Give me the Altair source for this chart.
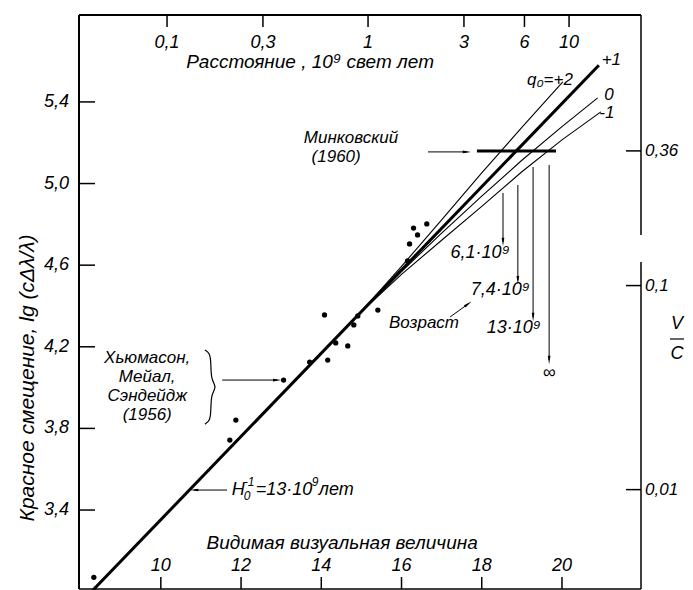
import altair as alt
import pandas as pd

W, H = 562, 574
FONT = "Liberation Sans"
ARROW = "M0,-1L0.32,1L-0.32,1Z"

# ---------------- data ----------------
mag_ticks = [10, 12, 14, 16, 18, 20]
mag_labels = ["10", "12", "14", "16", "18", "20"]
lg_ticks = [3.4, 3.8, 4.2, 4.6, 5.0, 5.4]
lg_labels = ["3,4", "3,8", "4,2", "4,6", "5,0", "5,4"]
dist_ticks = [0.1, 0.3, 1, 3, 6, 10]
dist_labels = ["0,1", "0,3", "1", "3", "6", "10"]
vc_lg = [3.50, 4.50, 5.16]
vc_labels = ["0,01", "0,1", "0,36"]

gal_mag = [8.33, 11.72, 11.87, 13.06, 13.71, 14.16, 14.36, 14.66, 14.81,
           14.91, 14.08, 15.41, 16.15, 16.20, 16.30, 16.40, 16.63]
gal_lg = [3.07, 3.743, 3.841, 4.037, 4.125, 4.135, 4.219, 4.204, 4.307,
          4.351, 4.356, 4.380, 4.621, 4.704, 4.782, 4.748, 4.802]

q_p1_mag = [8.31, 20.92]
q_p1_lg = [3.008, 5.580]
q_p2_mag = [14.5, 15.0, 16.0, 17.0, 18.0, 19.0, 20.02]
q_p2_lg = [4.271, 4.373, 4.594, 4.822, 5.052, 5.275, 5.498]
q_0_mag = [14.5, 15.0, 16.0, 17.0, 18.0, 19.0, 20.0, 20.89]
q_0_lg = [4.271, 4.373, 4.569, 4.757, 4.938, 5.114, 5.279, 5.420]
q_m1_mag = [14.5, 15.0, 16.0, 17.0, 18.0, 19.0, 20.0, 20.97]
q_m1_lg = [4.271, 4.373, 4.555, 4.722, 4.888, 5.058, 5.214, 5.351]

mink_mag = [17.88, 19.85]
mink_lg = [5.16]

age_mag = [18.53, 18.90, 19.28, 19.68]
age_top = [4.954, 4.993, 5.081, 5.091]
age_head = [4.714, 4.527, 4.346, 4.135]
age_labels = ["6,1·10⁹", "7,4·10⁹", "13·10⁹", "∞"]
age_label_mag = [17.96, 18.46, 18.80, 19.68]
age_label_lg = [4.660, 4.478, 4.292, 4.072]

center_texts = ["Минковский", "(1960)", "q₀=+2", "0", "-1", "Возраст",
                "Хьюмасон,", "Мейал,", "Сэндейдж", "(1956)"]
center_mag = [14.74, 14.37, 19.70, 21.17, 21.12, 16.56, 9.66, 9.66, 9.66, 9.66]
center_lg = [5.224, 5.130, 5.508, 5.434, 5.346, 4.317, 4.145, 4.052, 3.959, 3.866]

title_texts = ["Видимая визуальная величина", "Расстояние , 10⁹ свет лет"]
title_mag = [14.52, 13.72]
title_lg = [3.238, 5.596]

plus1_text = ["+1"]
plus1_mag = [20.99]
plus1_lg = [5.606]

# H0 label pieces: text, font size, dx, dy
h0_pieces = ["H", "0", "-1", "=13·10", "9", "лет"]
h0_size = [18, 12, 12, 18, 12, 18]
h0_dx = [0, 12, 12, 24, 80, 87]
h0_dy = [0, 6, -8, 0, -8, 0]
h0_mag = 11.77
h0_lg = 3.498

# arrows: start, end (magnitude, lg)
arr_x1 = [16.66, 11.53, 11.65, 17.21]
arr_x2 = [17.63, 12.90, 10.83, 17.66]
arr_y1 = [5.155, 4.037, 3.498, 4.346]
arr_y2 = [5.155, 4.037, 3.498, 4.410]
arr_angle = [90, 90, 270, 54]

brace_mag = [11.10, 11.22, 11.25, 11.25, 11.40, 11.25, 11.25, 11.22, 11.10]
brace_lg = [4.184, 4.170, 4.125, 4.037, 4.003, 3.968, 3.880, 3.836, 3.821]

# ---------------- scales ----------------
X = alt.Scale(domain=[7.96, 21.97], nice=False, zero=False)
Y = alt.Scale(domain=[3.013, 5.826], nice=False, zero=False)
D = alt.Scale(type="log", domain=[0.03648, 22.80], nice=False)


def xq(f):
    return alt.X(f, type="quantitative", scale=X, axis=None)


def yq(f):
    return alt.Y(f, type="quantitative", scale=Y, axis=None)


one = pd.DataFrame({"a": [0]})


def text_layer(df, align="center", size=16, **kw):
    return alt.Chart(df).mark_text(font=FONT, fontStyle="italic", fontSize=size,
                                   align=align, baseline="middle", color="black", **kw)


# frame
frame = [
    alt.Chart(one).mark_rule(color="black", strokeWidth=2).encode(
        x=alt.value(0), x2=alt.value(W), y=alt.value(0)),
    alt.Chart(one).mark_rule(color="black", strokeWidth=2).encode(
        x=alt.value(0), y=alt.value(0), y2=alt.value(H)),
    alt.Chart(one).mark_rule(color="black", strokeWidth=1.5).encode(
        x=alt.value(0), x2=alt.value(W), y=alt.value(H)),
    alt.Chart(one).mark_rule(color="black", strokeWidth=1.5).encode(
        x=alt.value(W), y=alt.value(0), y2=alt.value(220)),
    alt.Chart(one).mark_rule(color="black", strokeWidth=1.5).encode(
        x=alt.value(W), y=alt.value(247), y2=alt.value(H)),
]

lgdf = pd.DataFrame({"lg": lg_ticks, "label": lg_labels})
left_ticks = alt.Chart(lgdf).mark_rule(color="black", strokeWidth=1.5).encode(
    y=yq("lg"), x=alt.value(0), x2=alt.value(16))
left_labels = text_layer(lgdf, align="right", size=18).encode(
    y=yq("lg"), x=alt.value(-10), text="label:N")

vcdf = pd.DataFrame({"lg": vc_lg, "label": vc_labels})
right_ticks = alt.Chart(vcdf).mark_rule(color="black", strokeWidth=1.5).encode(
    y=yq("lg"), x=alt.value(W - 15), x2=alt.value(W))
right_labels = text_layer(vcdf, align="left", size=17).encode(
    y=yq("lg"), x=alt.value(W + 4), text="label:N")

magdf = pd.DataFrame({"m": mag_ticks, "label": mag_labels})
bottom_ticks = alt.Chart(magdf).mark_rule(color="black", strokeWidth=1.5).encode(
    x=xq("m"), y=alt.value(H), y2=alt.value(H - 12))
bottom_labels = text_layer(magdf, size=18).encode(
    x=xq("m"), y=alt.value(551), text="label:N")

ytitle = text_layer(one, size=21, angle=270).encode(
    x=alt.value(-51), y=alt.value(363), text=alt.value("Красное смещение, lg (cΔλ/λ)"))
vc_v = text_layer(one, size=18).encode(x=alt.value(W + 36), y=alt.value(309), text=alt.value("V"))
vc_c = text_layer(one, size=18).encode(x=alt.value(W + 36), y=alt.value(339), text=alt.value("C"))
vc_bar = alt.Chart(one).mark_rule(color="black", strokeWidth=1.2).encode(
    x=alt.value(W + 29), x2=alt.value(W + 43), y=alt.value(324))


def curve(ms, ls, width):
    df = pd.DataFrame({"m": ms, "lg": ls})
    return alt.Chart(df).mark_line(color="black", strokeWidth=width).encode(
        x=xq("m"), y=yq("lg"))


curves = [
    curve(q_p2_mag, q_p2_lg, 1.1),
    curve(q_0_mag, q_0_lg, 1.1),
    curve(q_m1_mag, q_m1_lg, 1.1),
    curve(q_p1_mag, q_p1_lg, 3),
]

galdf = pd.DataFrame({"m": gal_mag, "lg": gal_lg})
dots = alt.Chart(galdf).mark_circle(color="black", opacity=1, size=28).encode(
    x=xq("m"), y=yq("lg"))

minkdf = pd.DataFrame({"m1": [mink_mag[0]], "m2": [mink_mag[1]], "lg": mink_lg})
mink = alt.Chart(minkdf).mark_rule(color="black", strokeWidth=3).encode(
    x=xq("m1"), x2=alt.X2("m2"), y=yq("lg"))

agedf = pd.DataFrame({"m": age_mag, "top": age_top, "head": age_head})
age_lines = alt.Chart(agedf).mark_rule(color="black", strokeWidth=1).encode(
    x=xq("m"), y=yq("top"), y2=alt.Y2("head"))
age_heads = alt.Chart(agedf).mark_point(shape=ARROW, filled=True, color="black",
                                        opacity=1, size=70, angle=180).encode(
    x=xq("m"), y=yq("head"))
agelab = pd.DataFrame({"m": age_label_mag, "lg": age_label_lg, "t": age_labels})
age_text = text_layer(agelab, size=18).encode(x=xq("m"), y=yq("lg"), text="t:N")

arrdf = pd.DataFrame({"x1": arr_x1, "x2": arr_x2, "y1": arr_y1, "y2": arr_y2, "ang": arr_angle})
arr_lines = alt.Chart(arrdf).mark_rule(color="black", strokeWidth=1).encode(
    x=xq("x1"), x2=alt.X2("x2"), y=yq("y1"), y2=alt.Y2("y2"))
arr_heads = alt.Chart(arrdf).mark_point(shape=ARROW, filled=True, color="black",
                                        opacity=1, size=70).encode(
    x=xq("x2"), y=yq("y2"), angle=alt.Angle("ang:Q", scale=None))

brdf = pd.DataFrame({"m": brace_mag, "lg": brace_lg, "i": list(range(len(brace_mag)))})
brace = alt.Chart(brdf).mark_line(color="black", strokeWidth=1.2, interpolate="basis").encode(
    x=xq("m"), y=yq("lg"), order="i:Q")

cdf = pd.DataFrame({"m": center_mag, "lg": center_lg, "t": center_texts})
ctext = text_layer(cdf, size=17).encode(x=xq("m"), y=yq("lg"), text="t:N")
tdf = pd.DataFrame({"m": title_mag, "lg": title_lg, "t": title_texts})
ttext = text_layer(tdf, size=19).encode(x=xq("m"), y=yq("lg"), text="t:N")
pdf = pd.DataFrame({"m": plus1_mag, "lg": plus1_lg, "t": plus1_text})
ptext = text_layer(pdf, align="left", size=17).encode(x=xq("m"), y=yq("lg"), text="t:N")

h0df = pd.DataFrame({"m": [h0_mag], "lg": [h0_lg]})
h0_layers = [
    text_layer(h0df, align="left", size=s, dx=dx, dy=dy).encode(
        x=xq("m"), y=yq("lg"), text=alt.value(t))
    for t, s, dx, dy in zip(h0_pieces, h0_size, h0_dx, h0_dy)
]

main = alt.layer(*frame, left_ticks, left_labels, right_ticks, right_labels,
                 bottom_ticks, bottom_labels, ytitle, vc_v, vc_c, vc_bar,
                 *curves, dots, mink, age_lines, age_heads, age_text,
                 arr_lines, arr_heads, brace, ctext, ttext, ptext, *h0_layers)

ddf = pd.DataFrame({"d": dist_ticks, "label": dist_labels})
dist_ticks_l = alt.Chart(ddf).mark_rule(color="black", strokeWidth=1.5).encode(
    x=alt.X("d:Q", scale=D, axis=None), y=alt.value(0), y2=alt.value(12))
dist_labels_l = text_layer(ddf, size=18).encode(
    x=alt.X("d:Q", scale=D, axis=None), y=alt.value(28), text="label:N")
dist = alt.layer(dist_ticks_l, dist_labels_l)

chart = alt.layer(main, dist).resolve_scale(x="independent").properties(
    width=W, height=H,
    padding={"left": 71, "top": 7, "right": 44, "bottom": 1},
    autosize=alt.AutoSizeParams(type="none"),
    background="white",
).configure_view(stroke=None)

chart.save("out.html", embed_options={"renderer": "svg", "actions": False})
